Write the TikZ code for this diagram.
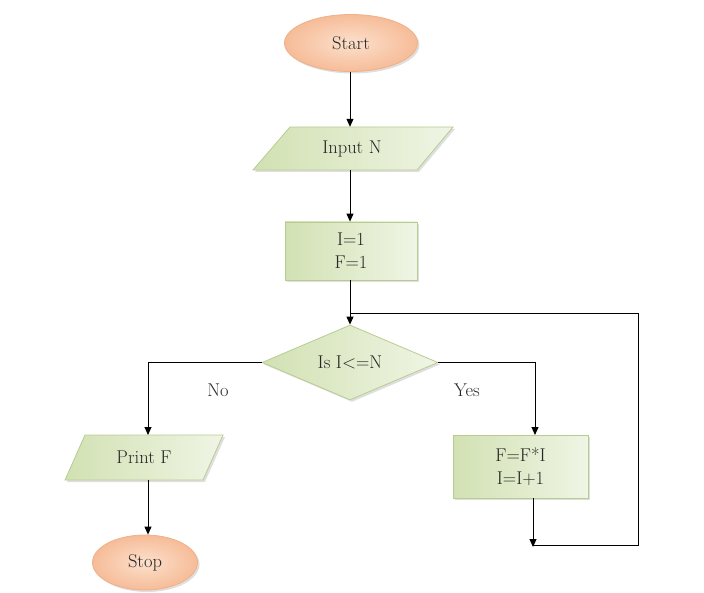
\documentclass[tikz,border=0pt]{standalone}
\usetikzlibrary{shapes.geometric,shadows,arrows.meta}
\definecolor{peachin}{HTML}{FCE0CC}
\definecolor{peachout}{HTML}{F6BC98}
\definecolor{peachline}{HTML}{F0B088}
\definecolor{greenA}{HTML}{D2E1B3}
\definecolor{greenB}{HTML}{EFF5E4}
\definecolor{greenline}{HTML}{B8CC92}
\definecolor{txtc}{HTML}{262626}
\begin{document}
\begin{tikzpicture}[x=1pt,y=-1pt,
  font=\fontsize{18.5}{23}\selectfont, text=txtc,
  shad/.style={drop shadow={shadow xshift=2pt,shadow yshift=-2pt,opacity=0.25}},
  term/.style={ellipse,draw=peachline,line width=0.8pt,inner color=peachin,outer color=peachout,inner sep=0pt,shad},
  procbox/.style={rectangle,draw=greenline,line width=0.8pt,left color=greenA,right color=greenB,align=center,inner sep=0pt,shad},
  ioshape/.style={draw=greenline,line width=0.8pt,left color=greenA,right color=greenB,shad},
  txt/.style={rectangle,inner sep=0pt,align=center},
  decis/.style={diamond,aspect=2.3,draw=greenline,line width=0.8pt,left color=greenA,right color=greenB,inner sep=0pt,minimum width=176pt,minimum height=75pt,shad},
  arr/.style={line width=1pt,-{Triangle[length=8pt,width=7pt]}},
  ln/.style={line width=1pt}]
\useasboundingbox (0,0) rectangle (704,593);
% shapes
\node[term,minimum width=133pt,minimum height=57pt] (start) at (351,43) {Start};
\path[ioshape] (290,127) -- (453,127) -- (417,170) -- (253,170) -- cycle;
\node[txt,minimum width=127pt,minimum height=43pt] (input) at (352,148.5) {Input N};
\node[procbox,minimum width=132pt,minimum height=58pt] (init) at (351,251) {I=1\\F=1};
\node[decis] (dec) at (350,362.5) {Is I<=N};
\path[ioshape] (85,435) -- (223,435) -- (203,480) -- (65,480) -- cycle;
\node[txt,minimum width=118pt,minimum height=45pt] (print) at (144,457.5) {Print F};
\node[term,minimum width=105pt,minimum height=55pt] (stop) at (145,562.5) {Stop};
\node[procbox,minimum width=135pt,minimum height=63pt] (upd) at (520.5,466.5) {F=F*I\\I=I+1};
% coordinates
\coordinate (cx) at (350,0);
\coordinate (printtop) at (148,435);
\coordinate (printbot) at (148,480);
\coordinate (updtop) at (535,435);
\coordinate (updbot) at (533,498);
\coordinate (lb) at (533,547);
\coordinate (lbs) at (533,545);
\coordinate (lr) at (638,545);
\coordinate (lt) at (350,314);
% connectors
\draw[arr] (start.south -| cx) -- (input.north -| cx);
\draw[arr] (input.south -| cx) -- (init.north -| cx);
\draw[arr] (init.south -| cx) -- (dec.north);
\draw[arr] (dec.west) -| (printtop);
\draw[arr] (printbot) -- (printbot |- stop.north);
\draw[arr] (dec.east) -| (updtop);
\draw[arr] (updbot) -- (lb);
\draw[ln] (lbs) -- (lr) -- (lr |- lt) -- (lt);
% labels
\node[txt] (no) at (218,390) {No};
\node[txt] (yes) at (467,390) {Yes};
\end{tikzpicture}
\end{document}
